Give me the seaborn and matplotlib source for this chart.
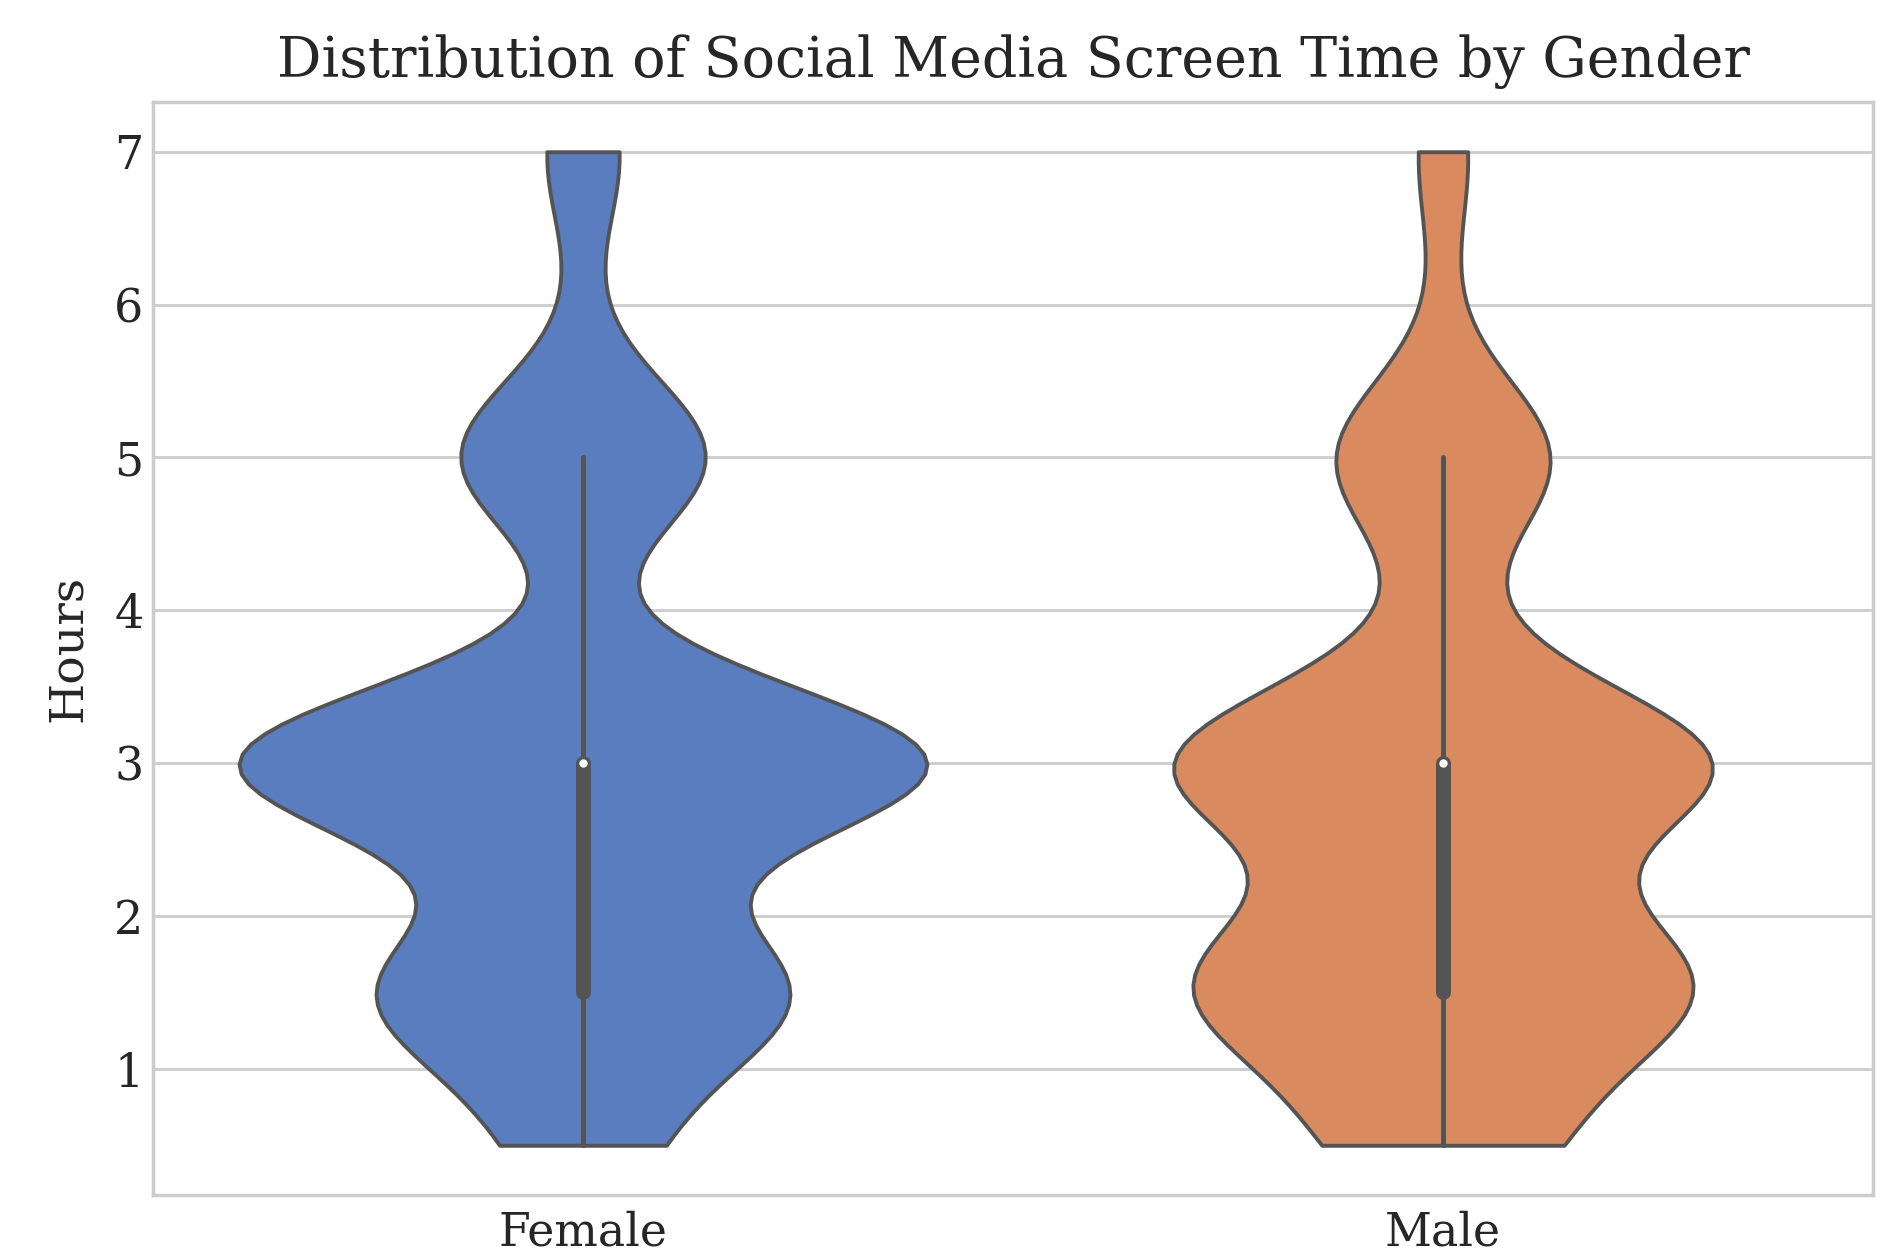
import numpy as np
import pandas as pd
import matplotlib
matplotlib.use("Agg")
import matplotlib.pyplot as plt
import seaborn as sns

# Data (hours of social media screen time, counts per value)
genders = ["Female", "Male"]
female_hours = [0.5, 1.5, 3, 5, 6, 7]
female_counts = [22, 77, 135, 48, 2, 14]
male_hours = [0.5, 1.5, 2, 3, 4, 5, 6, 7]
male_counts = [34, 78, 16, 97, 7, 39, 2, 9]

df = pd.DataFrame({
    "Gender": ["Female"] * sum(female_counts) + ["Male"] * sum(male_counts),
    "Hours": np.concatenate([np.repeat(female_hours, female_counts),
                             np.repeat(male_hours, male_counts)]),
})

sns.set_theme(style="whitegrid")
plt.rcParams["font.family"] = ["DejaVu Serif"]

fig, ax = plt.subplots(figsize=(9.445, 6.3), dpi=200)
sns.violinplot(data=df, x="Gender", y="Hours", hue="Gender", order=genders,
               hue_order=genders, palette="muted", cut=0, legend=False,
               common_norm=True, linewidth=1.4,
               inner_kws=dict(box_width=5.4, whis_width=1.8, marker="o",
                              markersize=2.4, markeredgewidth=0.6),
               ax=ax)
ax.set_title("Distribution of Social Media Screen Time by Gender",
             fontsize=20, pad=9)
ax.set_xlabel("")
ax.set_ylabel("Hours", fontsize=17, labelpad=8.5)
ax.tick_params(axis="both", labelsize=16.5, length=0)
ax.tick_params(axis="x", pad=5.5)
ax.tick_params(axis="y", pad=3.5)
fig.subplots_adjust(left=0.081, right=0.9915, top=0.919, bottom=0.0516)
fig.savefig("out.png", dpi=200)
